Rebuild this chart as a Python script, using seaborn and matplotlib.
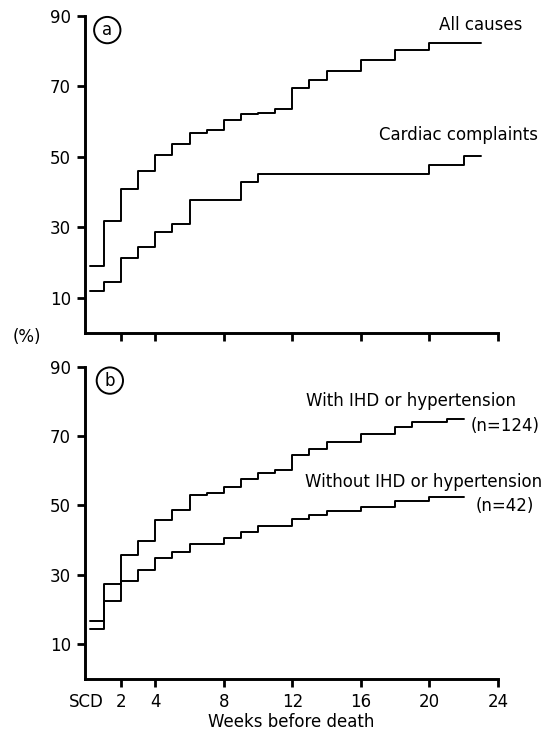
import matplotlib
matplotlib.use("Agg")
import matplotlib.pyplot as plt
import seaborn as sns
import pandas as pd

# ---- data ----
weeks_all = [0.2, 1, 2, 3, 4, 5, 6, 7, 8, 9, 10, 11, 12, 13, 14, 16, 18, 20, 23]
all_causes = [18.9, 31.8, 40.9, 46.0, 50.5, 53.7, 56.9, 57.6, 60.5, 62.1, 62.6, 63.6,
              69.5, 71.8, 74.5, 77.5, 80.4, 82.3, 82.3]

weeks_cardiac = [0.2, 1, 2, 3, 4, 5, 6, 9, 10, 20, 22, 23]
cardiac = [12.0, 14.5, 21.2, 24.3, 28.6, 30.9, 37.8, 43.0, 45.2, 47.7, 50.3, 50.3]

weeks_with = [0.2, 1, 2, 3, 4, 5, 6, 7, 8, 9, 10, 11, 12, 13, 14, 16, 18, 19, 21, 22]
with_ihd = [16.6, 27.3, 35.8, 39.7, 45.7, 48.8, 53.1, 53.6, 55.3, 57.6, 59.2, 60.3,
            64.6, 66.2, 68.3, 70.7, 72.6, 74.1, 74.8, 74.8]

weeks_without = [0.2, 1, 2, 3, 4, 5, 6, 8, 9, 10, 12, 13, 14, 16, 18, 20, 22]
without_ihd = [14.3, 22.5, 28.2, 31.3, 34.7, 36.6, 38.8, 40.6, 42.4, 44.0, 46.2,
               47.2, 48.4, 49.6, 51.3, 52.4, 52.4]

x_ticks = [0, 2, 4, 8, 12, 16, 20, 24]
x_ticklabels = ["SCD", "2", "4", "8", "12", "16", "20", "24"]
y_ticks = [10, 30, 50, 70, 90]

sns.set_theme(style="ticks")
plt.rcParams['font.family'] = ['DejaVu Sans']
plt.rcParams['text.color'] = 'black'
plt.rcParams['axes.labelcolor'] = 'black'
plt.rcParams['xtick.color'] = 'black'
plt.rcParams['ytick.color'] = 'black'

fig = plt.figure(figsize=(5.47, 7.34), dpi=100)
ax_a = fig.add_axes([0.1554, 0.5463, 0.7550, 0.4319])
ax_b = fig.add_axes([0.1554, 0.0753, 0.7550, 0.4251])

FS = 12
LW = 1.4

def style(ax, labels):
    ax.set_xlim(-0.1, 24)
    ax.set_ylim(0, 90)
    for s in ["top", "right"]:
        ax.spines[s].set_visible(False)
    for s in ["left", "bottom"]:
        ax.spines[s].set_linewidth(2.1)
        ax.spines[s].set_color("black")
    ax.set_yticks(y_ticks)
    ax.set_yticklabels([str(v) for v in y_ticks], fontsize=FS, color="black")
    ax.set_xticks(x_ticks)
    if labels:
        ax.set_xticklabels(x_ticklabels, fontsize=FS, color="black")
    else:
        ax.set_xticklabels([])
    ax.tick_params(axis="both", direction="out", length=6, width=2.0, color="black", pad=4)
    # no tick mark at SCD (the spine is there)
    ax.xaxis.get_major_ticks()[0].tick1line.set_visible(False)
    ax.set_xlabel("")
    ax.set_ylabel("")
    ax.set_facecolor("white")

def steps(ax, x, y):
    df = pd.DataFrame({"week": x, "pct": y})
    sns.lineplot(data=df, x="week", y="pct", ax=ax, color="black", linewidth=LW,
                 drawstyle="steps-post", estimator=None, sort=False)

steps(ax_a, weeks_all, all_causes)
steps(ax_a, weeks_cardiac, cardiac)
steps(ax_b, weeks_with, with_ihd)
steps(ax_b, weeks_without, without_ihd)

style(ax_a, False)
style(ax_b, True)
ax_b.set_xlabel("Weeks before death", fontsize=FS, labelpad=2, color="black")

circ = dict(boxstyle="circle,pad=0.25", fc="white", ec="black", lw=1.4)
ax_a.text(1.2, 86, "a", fontsize=FS, ha="center", va="center", bbox=circ, color="black")
ax_b.text(1.35, 86, "b", fontsize=FS, ha="center", va="center", bbox=circ, color="black")

kw = dict(fontsize=FS, ha="center", va="center", clip_on=False, color="black")
ax_a.text(23.0, 87.5, "All causes", **kw)
ax_a.text(21.7, 56.1, "Cardiac complaints", **kw)

ax_b.text(18.9, 80.2, "With IHD or hypertension", **kw)
ax_b.text(24.4, 73.0, "(n=124)", **kw)
ax_b.text(19.65, 56.8, "Without IHD or hypertension", **kw)
ax_b.text(24.4, 49.9, "(n=42)", **kw)

fig.text(27 / 547, 1 - 337 / 734, "(%)", fontsize=FS, ha="center", va="center", color="black")

fig.savefig("out.png", dpi=100, facecolor="white")
